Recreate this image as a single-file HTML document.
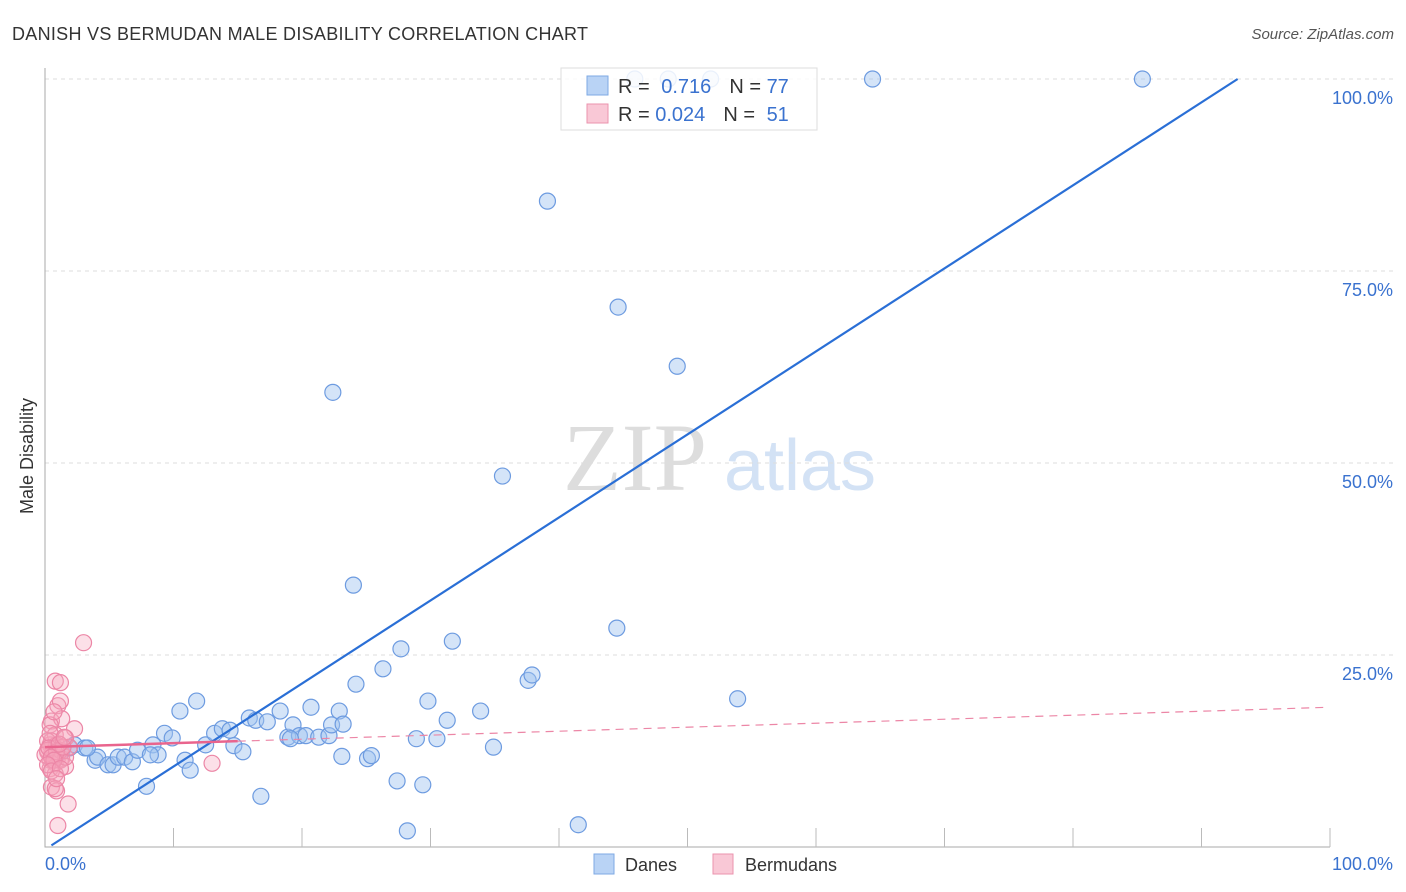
<!DOCTYPE html>
<html><head><meta charset="utf-8"><style>
body{margin:0;background:#fff;font-family:"Liberation Sans",sans-serif;}
svg{display:block}
</style></head><body>
<svg id="c" width="1406" height="892">
<text x="12" y="40" font-size="18" fill="#333" textLength="576">DANISH VS BERMUDAN MALE DISABILITY CORRELATION CHART</text>
<text x="1394" y="39" font-size="15" fill="#555" font-style="italic" text-anchor="end">Source: ZipAtlas.com</text>
<text x="33" y="456" font-size="18" fill="#333" transform="rotate(-90 33 456)" text-anchor="middle">Male Disability</text>
<g><text x="635" y="490" font-size="96" fill="#ddd" font-family="Liberation Serif,serif" text-anchor="middle">ZIP</text><text x="800" y="490" font-size="72" fill="#d3e2f5" text-anchor="middle">atlas</text></g>
<g id="grid"></g><g id="marks"></g>
<g>
<rect x="561" y="68" width="256" height="62" fill="#fff" fill-opacity="0.85" stroke="#ddd"/>
<rect x="587" y="76" width="21" height="19" fill="#b9d3f5" stroke="#7ea9e4"/>
<rect x="587" y="104" width="21" height="19" fill="#f9c8d6" stroke="#eb93ae"/>
<text x="618" y="93" font-size="20" fill="#333">R = <tspan fill="#3a72cf" dx="6">0.716</tspan><tspan dx="18" fill="#333">N = </tspan><tspan fill="#3a72cf">77</tspan></text>
<text x="618" y="121" font-size="20" fill="#333">R = <tspan fill="#3a72cf">0.024</tspan><tspan dx="18" fill="#333">N = </tspan><tspan fill="#3a72cf" dx="6">51</tspan></text>
</g>
<g>
<rect x="594" y="854" width="20" height="20" fill="#b9d3f5" stroke="#7ea9e4"/><text x="625" y="871" font-size="18" fill="#333">Danes</text>
<rect x="713" y="854" width="20" height="20" fill="#f9c8d6" stroke="#eb93ae"/><text x="745" y="871" font-size="18" fill="#333">Bermudans</text>
</g>
<text x="45" y="870" font-size="18" fill="#3a72cf">0.0%</text>
<text x="1393" y="870" font-size="18" fill="#3a72cf" text-anchor="end">100.0%</text>
</svg>
<script>
const yTicks=[25,50,75,100];
const yTickLabels=["25.0%","50.0%","75.0%","100.0%"];
const danesX=[1.3,1.9,2.3,3.1,3.9,4.1,4.9,5.3,5.7,6.2,6.8,7.2,7.9,8.4,8.8,9.3,9.9,10.5,10.9,11.3,11.8,12.5,13.2,13.8,14.4,14.7,15.4,15.9,16.4,16.8,17.3,18.3,18.9,19.3,19.8,20.3,20.7,21.3,22.1,22.3,22.9,23.2,22.4,23.1,24.0,24.2,25.1,25.4,26.3,27.4,27.7,28.2,28.9,29.4,29.8,30.5,31.3,31.7,33.9,34.9,35.6,37.6,37.9,39.1,41.5,44.5,44.6,49.2,53.9,64.4,85.4,45.9,48.5,51.8,3.3,8.2,19.1];
const danesY=[12.4,12.9,13.3,12.9,11.3,11.7,10.7,10.7,11.7,11.7,11.1,12.6,7.9,13.3,12.0,14.8,14.2,17.7,11.3,10.0,19.0,13.3,14.8,15.4,15.2,13.2,12.4,16.8,16.5,6.6,16.3,17.7,14.3,15.9,14.5,14.5,18.2,14.3,14.5,15.9,17.7,16.0,59.2,11.8,34.1,21.2,11.5,11.9,23.2,8.6,25.8,2.1,14.1,8.1,19.0,14.1,16.5,26.8,17.7,13.0,48.3,21.7,22.4,84.1,2.9,28.5,70.3,62.6,19.3,100,100,100,100,100,12.9,12.0,14.1];
const bermX=[3.0,0.8,1.2,1.0,1.2,0.5,1.3,2.3,0.4,0.8,1.6,0.4,0.8,0.2,0.5,1.0,1.3,0.4,0.8,1.2,1.6,0.4,0.8,0.5,0.9,0.8,1.8,1.0,0.5,0.9,0.2,0.6,1.2,0.2,0.4,0.7,1.6,1.9,13.0,0.0,0.3,0.9,0.5,0.7,1.4,1.1,0.2,0.5,1.2,0.9,1.5];
const bermY=[26.6,21.6,21.4,18.4,19.0,16.4,16.7,15.4,15.9,14.6,14.2,13.3,12.9,12.4,12.0,11.7,11.5,11.3,10.9,11.3,10.5,10.2,9.5,7.8,7.3,7.6,5.6,2.8,13.8,13.3,13.8,11.3,12.6,12.6,14.8,17.6,11.7,13.0,10.9,12.0,12.9,12.4,11.7,11.3,13.0,13.4,10.7,9.9,10.2,8.9,14.3];
const danesFit=[-0.33,1.081];
const bermFit=[13.0,0.052];
const X=v=>45+v*12.85, Y=v=>847-v*7.68;
const NS="http://www.w3.org/2000/svg";
function mk(t,a,p){const e=document.createElementNS(NS,t);for(const k in a)e.setAttribute(k,a[k]);p.appendChild(e);return e;}
const g=document.getElementById('grid'), m=document.getElementById('marks');
yTicks.forEach((t,i)=>{
 const l=mk('line',{x1:45,x2:1394,y1:Y(t),y2:Y(t),stroke:'#ddd','stroke-dasharray':'4,4'},g);
 
 
 const tx=mk('text',{x:1393,y:Y(t)+25,'font-size':18,fill:'#3a72cf','text-anchor':'end'},g);
 tx.textContent=yTickLabels[i];
 
 
});
const ax=mk('path',{d:`M45 68V847H1330`,stroke:'#aaa',fill:'none'},g);


for(let i=1;i<=10;i++){const t=mk('line',{x1:X(i*10),x2:X(i*10),y1:828,y2:847,stroke:'#bbb'},g);
 
 }
danesX.forEach((x,i)=>{const c=mk('circle',{cx:X(x),cy:Y(danesY[i]),r:8,fill:'rgba(160,196,240,0.45)',stroke:'#6d9be0','stroke-width':1.2},m);
 
 });
bermX.forEach((x,i)=>{const c=mk('circle',{cx:X(x),cy:Y(bermY[i]),r:8,fill:'rgba(245,165,190,0.35)',stroke:'#ec86a6','stroke-width':1.2},m);
 
 });
const xe=(100-danesFit[0])/danesFit[1];
const dl=mk('line',{x1:X(0.5),y1:Y(danesFit[0]+danesFit[1]*0.5),x2:X(xe),y2:Y(100),stroke:'#2a6fd6','stroke-width':2.2},m);


const b1=mk('line',{x1:X(0),y1:Y(bermFit[0]),x2:X(15),y2:Y(bermFit[0]+bermFit[1]*15),stroke:'#e9648d','stroke-width':2.5},m);


const b2=mk('line',{x1:X(15),y1:Y(bermFit[0]+bermFit[1]*15),x2:X(99.8),y2:Y(bermFit[0]+bermFit[1]*99.8),stroke:'#ec86a6','stroke-width':1.2,'stroke-dasharray':'8,6'},m);


</script>
</body></html>
